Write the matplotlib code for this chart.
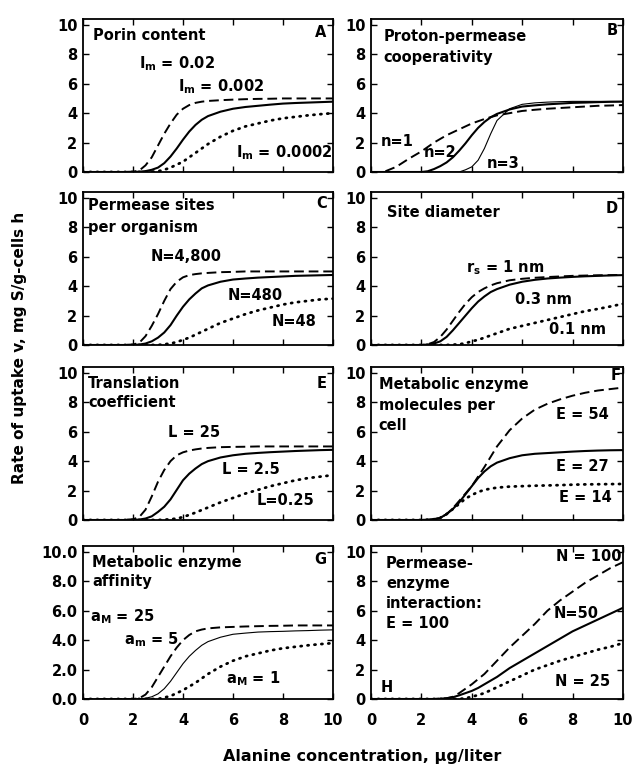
import matplotlib
matplotlib.use("Agg")
import matplotlib.pyplot as plt
from matplotlib.ticker import FormatStrFormatter

plt.rcParams['font.family'] = ['DejaVu Sans']
plt.rcParams['font.weight'] = 'bold'
plt.rcParams['mathtext.fontset'] = 'custom'
plt.rcParams['mathtext.rm'] = 'DejaVu Sans:bold'
plt.rcParams['mathtext.it'] = 'DejaVu Sans:bold'
plt.rcParams['mathtext.bf'] = 'DejaVu Sans:bold'
plt.rcParams['lines.scale_dashes'] = False

# ---------------- data ----------------
X = [0, 0.5, 1, 1.5,
     2, 2.25, 2.5, 2.75, 3, 3.25, 3.5, 3.75, 4, 4.25, 4.5, 4.75, 5,
     5.5, 6, 6.5, 7, 7.5, 8, 8.5, 9, 9.5, 10]

A_dash = [0, 0, 0, 0, 0.02, 0.1, 0.45, 1.0, 1.8, 2.6, 3.3, 3.9, 4.3, 4.55, 4.7, 4.78, 4.83,
          4.88, 4.92, 4.95, 4.97, 4.98, 5.0, 5.0, 5.0, 5.0, 5.0]
A_solid = [0, 0, 0, 0, 0, 0.02, 0.06, 0.15, 0.3, 0.6, 1.05, 1.6, 2.2, 2.75, 3.2, 3.55, 3.8,
           4.1, 4.3, 4.42, 4.5, 4.58, 4.65, 4.69, 4.72, 4.75, 4.78]
A_dot = [0, 0, 0, 0, 0, 0, 0, 0.02, 0.05, 0.15, 0.3, 0.5, 0.7, 1.0, 1.3, 1.6, 1.9,
         2.4, 2.8, 3.1, 3.3, 3.5, 3.65, 3.75, 3.85, 3.93, 4.0]

B_dash = [0, 0, 0.35, 0.9, 1.4, 1.7, 2.0, 2.25, 2.5, 2.7, 2.9, 3.1, 3.3, 3.45, 3.6, 3.73, 3.85,
          4.0, 4.15, 4.23, 4.3, 4.35, 4.4, 4.45, 4.5, 4.52, 4.55]
B_solid = [0, 0, 0, 0, 0, 0.05, 0.2, 0.4, 0.65, 1.0, 1.45, 1.95, 2.5, 3.0, 3.4, 3.72, 3.95,
           4.25, 4.45, 4.53, 4.6, 4.65, 4.7, 4.72, 4.75, 4.77, 4.78]
B_thin = [0, 0, 0, 0, 0, 0, 0, 0, 0, 0, 0, 0.15, 0.35, 0.8, 1.6, 2.6, 3.5,
          4.3, 4.6, 4.7, 4.75, 4.78, 4.8, 4.8, 4.8, 4.8, 4.8]

C_dash = [0, 0, 0, 0, 0.03, 0.15, 0.6, 1.3, 2.1, 3.0, 3.8, 4.3, 4.6, 4.75, 4.82, 4.87, 4.9,
          4.95, 4.97, 5.0, 5.0, 5.0, 5.0, 5.0, 5.0, 5.0, 5.0]
C_solid = [0, 0, 0, 0, 0, 0.03, 0.1, 0.25, 0.5, 0.85, 1.35, 2.0, 2.6, 3.1, 3.5, 3.85, 4.05,
           4.3, 4.45, 4.52, 4.58, 4.62, 4.66, 4.7, 4.72, 4.74, 4.76]
C_dot = [0, 0, 0, 0, 0, 0, 0, 0, 0, 0.05, 0.1, 0.2, 0.35, 0.5, 0.7, 0.9, 1.1,
         1.5, 1.8, 2.1, 2.35, 2.55, 2.75, 2.9, 3.0, 3.1, 3.15]

D_dash = [0, 0, 0, 0, 0, 0.05, 0.2, 0.55, 1.05, 1.65, 2.25, 2.8, 3.25, 3.6, 3.85, 4.05, 4.2,
          4.4, 4.5, 4.57, 4.62, 4.66, 4.7, 4.72, 4.74, 4.75, 4.76]
D_solid = [0, 0, 0, 0, 0, 0.03, 0.1, 0.25, 0.55, 1.0, 1.5, 2.0, 2.5, 2.95, 3.3, 3.6, 3.8,
           4.1, 4.3, 4.43, 4.52, 4.58, 4.63, 4.67, 4.7, 4.73, 4.75]
D_dot = [0, 0, 0, 0, 0, 0, 0, 0, 0, 0.02, 0.05, 0.12, 0.25, 0.35, 0.5, 0.65, 0.8,
         1.1, 1.3, 1.5, 1.7, 1.9, 2.1, 2.3, 2.45, 2.62, 2.8]

E_dash = [0, 0, 0, 0, 0.05, 0.2, 0.7, 1.6, 2.6, 3.4, 4.0, 4.4, 4.6, 4.72, 4.8, 4.86, 4.9,
          4.95, 4.97, 4.98, 5.0, 5.0, 5.0, 5.0, 5.0, 5.0, 5.0]
E_solid = [0, 0, 0, 0, 0, 0.03, 0.1, 0.25, 0.55, 0.9, 1.4, 2.05, 2.7, 3.15, 3.5, 3.8, 4.0,
           4.25, 4.4, 4.5, 4.56, 4.61, 4.65, 4.69, 4.72, 4.75, 4.77]
E_dot = [0, 0, 0, 0, 0, 0, 0, 0, 0, 0.02, 0.05, 0.1, 0.2, 0.35, 0.5, 0.68, 0.85,
         1.2, 1.5, 1.8, 2.05, 2.3, 2.5, 2.7, 2.85, 2.95, 3.05]

F_dash = [0, 0, 0, 0, 0, 0.02, 0.05, 0.15, 0.4, 0.8, 1.3, 1.8, 2.3, 2.95, 3.6, 4.3, 5.0,
          6.1, 6.9, 7.5, 7.9, 8.2, 8.45, 8.65, 8.8, 8.9, 9.0]
F_solid = [0, 0, 0, 0, 0, 0.02, 0.05, 0.15, 0.4, 0.75, 1.2, 1.75, 2.3, 2.85, 3.3, 3.65, 3.9,
           4.2, 4.4, 4.5, 4.55, 4.6, 4.65, 4.69, 4.72, 4.74, 4.75]
F_dot = [0, 0, 0, 0, 0, 0.02, 0.05, 0.15, 0.4, 0.75, 1.1, 1.45, 1.7, 1.9, 2.05, 2.13, 2.2,
         2.27, 2.3, 2.33, 2.35, 2.37, 2.4, 2.42, 2.43, 2.44, 2.45]

G_dash = [0, 0, 0, 0, 0, 0.05, 0.3, 0.8, 1.5, 2.2, 2.9, 3.5, 4.0, 4.35, 4.6, 4.72, 4.8,
          4.87, 4.9, 4.93, 4.95, 4.97, 4.98, 5.0, 5.0, 5.0, 5.0]
G_thin = [0, 0, 0, 0, 0, 0.02, 0.05, 0.15, 0.35, 0.7, 1.2, 1.8, 2.4, 2.9, 3.3, 3.65, 3.9,
          4.2, 4.4, 4.48, 4.55, 4.58, 4.6, 4.63, 4.65, 4.68, 4.7]
G_dot = [0, 0, 0, 0, 0, 0, 0, 0, 0, 0.1, 0.2, 0.4, 0.6, 0.85, 1.1, 1.4, 1.7,
         2.2, 2.6, 2.9, 3.1, 3.3, 3.45, 3.55, 3.65, 3.73, 3.8]

H_dash = [0, 0, 0, 0, 0, 0, 0, 0.02, 0.05, 0.15, 0.4, 0.7, 1.0, 1.35, 1.7, 2.15, 2.6,
          3.5, 4.3, 5.1, 6.0, 6.7, 7.3, 7.9, 8.4, 8.9, 9.3]
H_solid = [0, 0, 0, 0, 0, 0, 0, 0.02, 0.05, 0.12, 0.25, 0.4, 0.55, 0.75, 1.0, 1.25, 1.5,
           2.1, 2.6, 3.1, 3.6, 4.1, 4.6, 5.0, 5.4, 5.8, 6.2]
H_dot = [0, 0, 0, 0, 0, 0, 0, 0, 0, 0, 0, 0.05, 0.15, 0.27, 0.4, 0.6, 0.8,
         1.2, 1.6, 2.0, 2.3, 2.6, 2.85, 3.1, 3.35, 3.55, 3.8]

XTICKS = [0, 2, 4, 6, 8, 10]
YTICKS = [0, 2, 4, 6, 8, 10]

# ---------------- styles ----------------
DASH = dict(color='black', lw=1.4, linestyle=(0, (7, 3.5)))
SOLID = dict(color='black', lw=1.5, linestyle='-')
THIN = dict(color='black', lw=0.8, linestyle='-')
DOT = dict(color='black', lw=2.0, linestyle=(0, (0.8, 4.2)), dash_capstyle='round')

FS = 10.5

fig = plt.figure(figsize=(6.33, 7.68), dpi=100)
W, H = 633.0, 768.0
lefts = [83, 371]
widths = [250, 252]
bottoms = [172, 345, 520, 699]
hpx = 153

axes = {}
letters = ['A', 'B', 'C', 'D', 'E', 'F', 'G', 'H']
for i, L in enumerate(letters):
    r, c = divmod(i, 2)
    ax = fig.add_axes([lefts[c] / W, 1 - bottoms[r] / H, widths[c] / W, hpx / H])
    ax.set_xlim(0, 10)
    ax.set_ylim(0, 10.4)
    ax.set_xticks(XTICKS)
    ax.set_yticks(YTICKS)
    ax.tick_params(direction='in', top=True, right=True, length=4, width=1,
                   labelsize=10.5)
    ax.tick_params(axis='y', pad=4)
    ax.tick_params(axis='x', pad=10)
    for s in ax.spines.values():
        s.set_linewidth(1.3)
    if r < 3:
        ax.tick_params(labelbottom=False)
    axes[L] = ax

axes['G'].yaxis.set_major_formatter(FormatStrFormatter('%.1f'))
for ax in axes.values():
    for lab in ax.get_xticklabels() + ax.get_yticklabels():
        lab.set_fontweight('bold')

def t(ax, x, y, s, ha='left', va='center', fs=FS):
    ax.text(x, y, s, ha=ha, va=va, fontsize=fs, fontweight='bold')

# A
ax = axes['A']
ax.plot(X, A_dash, **DASH); ax.plot(X, A_solid, **SOLID); ax.plot(X, A_dot, **DOT)
t(ax, 0.4, 9.3, 'Porin content')
t(ax, 2.25, 7.07, r'I$_\mathregular{m}$ = 0.02', va='baseline')
t(ax, 3.8, 5.5, r'I$_\mathregular{m}$ = 0.002', va='baseline')
t(ax, 6.1, 1.0, r'I$_\mathregular{m}$ = 0.0002', va='baseline')
t(ax, 9.75, 9.45, 'A', ha='right')

# B
ax = axes['B']
ax.plot(X, B_dash, **DASH); ax.plot(X, B_solid, **SOLID); ax.plot(X, B_thin, **THIN)
t(ax, 0.5, 9.2, 'Proton-permease')
t(ax, 0.5, 7.75, 'cooperativity')
t(ax, 0.4, 2.1, 'n=1')
t(ax, 2.1, 1.3, 'n=2')
t(ax, 4.6, 0.55, 'n=3')
t(ax, 9.8, 9.6, 'B', ha='right')

# C
ax = axes['C']
ax.plot(X, C_dash, **DASH); ax.plot(X, C_solid, **SOLID); ax.plot(X, C_dot, **DOT)
t(ax, 0.2, 9.45, 'Permease sites')
t(ax, 0.2, 8.0, 'per organism')
t(ax, 2.7, 6.0, 'N=4,800')
t(ax, 5.8, 3.35, 'N=480')
t(ax, 7.55, 1.6, 'N=48')
t(ax, 9.75, 9.6, 'C', ha='right')

# D
ax = axes['D']
ax.plot(X, D_dash, **DASH); ax.plot(X, D_solid, **SOLID); ax.plot(X, D_dot, **DOT)
t(ax, 0.63, 9.0, 'Site diameter')
t(ax, 3.75, 4.97, r'r$_\mathregular{s}$ = 1 nm', va='baseline')
t(ax, 5.7, 3.1, '0.3 nm')
t(ax, 7.05, 1.07, '0.1 nm')
t(ax, 9.8, 9.3, 'D', ha='right')

# E
ax = axes['E']
ax.plot(X, E_dash, **DASH); ax.plot(X, E_solid, **SOLID); ax.plot(X, E_dot, **DOT)
t(ax, 0.2, 9.3, 'Translation')
t(ax, 0.2, 8.0, 'coefficient')
t(ax, 3.4, 5.95, 'L = 25')
t(ax, 5.55, 3.45, 'L = 2.5')
t(ax, 6.95, 1.35, 'L=0.25')
t(ax, 9.75, 9.3, 'E', ha='right')

# F
ax = axes['F']
ax.plot(X, F_dash, **DASH); ax.plot(X, F_solid, **SOLID); ax.plot(X, F_dot, **DOT)
t(ax, 0.3, 9.2, 'Metabolic enzyme')
t(ax, 0.3, 7.8, 'molecules per')
t(ax, 0.3, 6.4, 'cell')
t(ax, 7.35, 7.15, 'E = 54')
t(ax, 7.35, 3.65, 'E = 27')
t(ax, 7.45, 1.55, 'E = 14')
t(ax, 9.9, 9.8, 'F', ha='right')

# G
ax = axes['G']
ax.plot(X, G_dash, **DASH); ax.plot(X, G_thin, **THIN); ax.plot(X, G_dot, **DOT)
t(ax, 0.36, 9.3, 'Metabolic enzyme')
t(ax, 0.36, 8.0, 'affinity')
t(ax, 0.28, 5.25, r'a$_\mathregular{M}$ = 25', va='baseline')
t(ax, 1.64, 3.7, r'a$_\mathregular{m}$ = 5', va='baseline')
t(ax, 5.7, 1.1, r'a$_\mathregular{M}$ = 1', va='baseline')
t(ax, 9.75, 9.45, 'G', ha='right')

# H
ax = axes['H']
ax.plot(X, H_dash, **DASH); ax.plot(X, H_solid, **SOLID); ax.plot(X, H_dot, **DOT)
t(ax, 0.6, 9.2, 'Permease-')
t(ax, 0.6, 7.85, 'enzyme')
t(ax, 0.6, 6.5, 'interaction:')
t(ax, 0.6, 5.15, 'E = 100')
t(ax, 9.95, 9.7, 'N = 100', ha='right')
t(ax, 7.25, 5.8, 'N=50')
t(ax, 7.3, 1.2, 'N = 25')
t(ax, 0.4, 0.75, 'H')

fig.text(20 / W, 1 - 348 / H, 'Rate of uptake v, mg S/g-cells h', rotation=90,
         ha='center', va='center', fontsize=11, fontweight='bold')
fig.text(362 / W, 1 - 757 / H, 'Alanine concentration, µg/liter',
         ha='center', va='center', fontsize=11.5, fontweight='bold')

fig.savefig('out.png', dpi=100)
